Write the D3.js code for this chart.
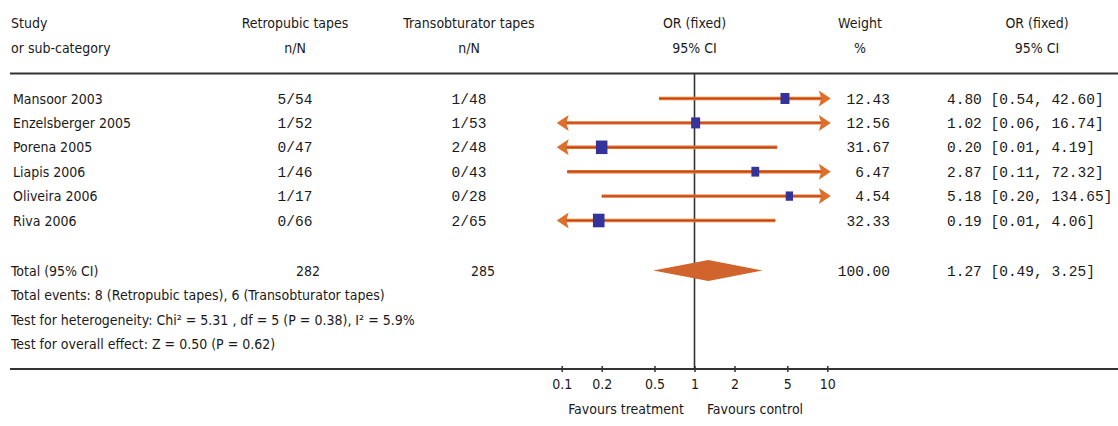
<!DOCTYPE html>
<html>
<head>
<meta charset="utf-8">
<script src="https://cdn.jsdelivr.net/npm/d3@7"></script>
<style>
  html, body { margin: 0; padding: 0; background: #fff; }
  svg { display: block; }
  .sans { font-family: "DejaVu Sans Condensed", "Liberation Sans Narrow", "Arial Narrow", sans-serif; fill: #1a1a1a; }
  .mono { font-family: "Liberation Mono", "DejaVu Sans Mono", monospace; fill: #1a1a1a; }
</style>
</head>
<body>
<svg id="chart" width="1118" height="426"></svg>
<script>
// ---------- data ----------
const studies = ["Mansoor 2003", "Enzelsberger 2005", "Porena 2005", "Liapis 2006", "Oliveira 2006", "Riva 2006"];
const retroEvents = [5, 1, 0, 1, 1, 0];
const retroTotal  = [54, 52, 47, 46, 17, 66];
const transEvents = [1, 1, 2, 0, 0, 2];
const transTotal  = [48, 53, 48, 43, 28, 65];
const weights     = [12.43, 12.56, 31.67, 6.47, 4.54, 32.33];
const orValues    = [4.80, 1.02, 0.20, 2.87, 5.18, 0.19];
const ciLower     = [0.54, 0.06, 0.01, 0.11, 0.20, 0.01];
const ciUpper     = [42.60, 16.74, 4.19, 72.32, 134.65, 4.06];
const totalLabel  = "Total (95% CI)";
const totalRetro  = 282;
const totalTrans  = 285;
const totalWeight = 100.00;
const totalOR     = 1.27;
const totalLower  = 0.49;
const totalUpper  = 3.25;
const footnotes = [
  "Total events: 8 (Retropubic tapes), 6 (Transobturator tapes)",
  "Test for heterogeneity: Chi\u00B2 = 5.31 , df = 5 (P = 0.38), I\u00B2 = 5.9%",
  "Test for overall effect: Z = 0.50 (P = 0.62)"
];
const xTicks = [0.1, 0.2, 0.5, 1, 2, 5, 10];
const xTickLabels = ["0.1", "0.2", "0.5", "1", "2", "5", "10"];
const favourLeft = "Favours treatment";
const favourRight = "Favours control";

// ---------- layout ----------
const svg = d3.select("#chart");
const x = d3.scaleLog().domain([0.1, 10]).range([561.7, 827.3]);
const rowY = d3.scaleLinear().domain([0, 1]).range([98.5, 122.9]);
const totalY = 270.5;
const axisY = 369;
const headerLineY = 73.5;
const sizeScale = d3.scaleSqrt().domain([4.54, 32.33]).range([7.3, 11.6]);

const colStudy = 13, colRetro = 295, colTrans = 469, colWeightR = 890, colCI = 947;
const colWeightHdr = 860, colORHdr = 1037;

const lineOuter = "#e0732c", lineInner = "#c8401c", headFill = "#dc6f2a";
const markerFill = "#333399", diamondFill = "#d0642c";

// header text
const hdr = svg.append("g").attr("class", "sans").style("font-size", "14px");
hdr.append("text").attr("x", colStudy - 2).attr("y", 28).text("Study");
hdr.append("text").attr("x", colStudy - 2).attr("y", 53).text("or sub-category");
[[colRetro, "Retropubic tapes", "n/N"], [colTrans, "Transobturator tapes", "n/N"],
 [x(1), "OR (fixed)", "95% CI"], [colWeightHdr, "Weight", "%"], [colORHdr, "OR (fixed)", "95% CI"]]
  .forEach(([cx, a, b]) => {
    hdr.append("text").attr("x", cx).attr("y", 28).attr("text-anchor", "middle").text(a);
    hdr.append("text").attr("x", cx).attr("y", 53).attr("text-anchor", "middle").text(b);
  });

// horizontal rules
svg.append("line").attr("x1", 10).attr("x2", 1118).attr("y1", headerLineY).attr("y2", headerLineY)
  .attr("stroke", "#333").attr("stroke-width", 2.2);

// vertical line of no effect
svg.append("line").attr("x1", x(1)).attr("x2", x(1)).attr("y1", headerLineY).attr("y2", axisY)
  .attr("stroke", "#333").attr("stroke-width", 1.6);

// study rows
const rows = svg.append("g");
studies.forEach((s, i) => {
  const y = rowY(i);
  rows.append("text").attr("class", "sans").style("font-size", "14px")
    .attr("x", colStudy).attr("y", y + 5).text(s);
  rows.append("text").attr("class", "mono").style("font-size", "14.5px")
    .attr("x", colRetro).attr("y", y + 5).attr("text-anchor", "middle")
    .text(retroEvents[i] + "/" + retroTotal[i]);
  rows.append("text").attr("class", "mono").style("font-size", "14.5px")
    .attr("x", colTrans).attr("y", y + 5).attr("text-anchor", "middle")
    .text(transEvents[i] + "/" + transTotal[i]);
  rows.append("text").attr("class", "mono").style("font-size", "14.5px")
    .attr("x", colWeightR).attr("y", y + 5).attr("text-anchor", "end")
    .text(weights[i].toFixed(2));
  rows.append("text").attr("class", "mono").style("font-size", "14.5px")
    .attr("x", colCI).attr("y", y + 5).attr("xml:space", "preserve")
    .text(orValues[i].toFixed(2) + " [" + ciLower[i].toFixed(2) + ", " + ciUpper[i].toFixed(2) + "]");

  // CI line clipped to axis domain
  const [dmin, dmax] = x.domain();
  const lo = Math.max(ciLower[i], dmin), hi = Math.min(ciUpper[i], dmax);
  const x1 = x(lo), x2 = x(hi);
  const leftArrow = ciLower[i] < dmin, rightArrow = ciUpper[i] > dmax;
  const lx1 = leftArrow ? x1 + 2 : x1, lx2 = rightArrow ? x2 - 2 : x2;
  rows.append("line").attr("x1", lx1).attr("x2", lx2).attr("y1", y).attr("y2", y)
    .attr("stroke", lineOuter).attr("stroke-width", 3.4);
  rows.append("line").attr("x1", lx1).attr("x2", lx2).attr("y1", y).attr("y2", y)
    .attr("stroke", lineInner).attr("stroke-width", 1.2);
  if (rightArrow) {
    rows.append("path").attr("fill", headFill)
      .attr("d", `M${x2 + 3.5},${y} L${x2 - 8.5},${y - 8} L${x2 - 6},${y} L${x2 - 8.5},${y + 8} Z`);
  }
  if (leftArrow) {
    rows.append("path").attr("fill", headFill)
      .attr("d", `M${x1 - 5},${y} L${x1 + 7},${y - 8} L${x1 + 4.5},${y} L${x1 + 7},${y + 8} Z`);
  }
  // point estimate marker
  const w = sizeScale(weights[i]), h = w + 2;
  rows.append("rect").attr("x", x(orValues[i]) - w / 2).attr("y", y - h / 2)
    .attr("width", w).attr("height", h).attr("fill", markerFill);
});

// total row
const tot = svg.append("g");
tot.append("text").attr("class", "sans").style("font-size", "14px")
  .attr("x", colStudy - 2).attr("y", totalY + 5).text(totalLabel);
tot.append("text").attr("class", "sans").style("font-size", "14px")
  .attr("x", 308).attr("y", totalY + 5).attr("text-anchor", "middle").text(totalRetro);
tot.append("text").attr("class", "sans").style("font-size", "14px")
  .attr("x", 483).attr("y", totalY + 5).attr("text-anchor", "middle").text(totalTrans);
tot.append("text").attr("class", "mono").style("font-size", "14.5px")
  .attr("x", colWeightR).attr("y", totalY + 5).attr("text-anchor", "end").text(totalWeight.toFixed(2));
tot.append("text").attr("class", "mono").style("font-size", "14.5px")
  .attr("x", colCI).attr("y", totalY + 5)
  .text(totalOR.toFixed(2) + " [" + totalLower.toFixed(2) + ", " + totalUpper.toFixed(2) + "]");
tot.append("path").attr("fill", diamondFill)
  .attr("d", `M${x(totalLower)},${totalY} L${x(totalOR)},${totalY - 10.5} L${x(totalUpper)},${totalY} L${x(totalOR)},${totalY + 10.5} Z`);

// footnotes
footnotes.forEach((f, i) => {
  svg.append("text").attr("class", "sans").style("font-size", "14px")
    .attr("x", colStudy - 2).attr("y", 300 + i * 24.5).text(f);
});

// bottom rule + axis
svg.append("line").attr("x1", 10).attr("x2", 1118).attr("y1", axisY).attr("y2", axisY)
  .attr("stroke", "#333").attr("stroke-width", 2.2);
const axis = d3.axisBottom(x).tickValues(xTicks)
  .tickFormat((d, i) => xTickLabels[i]).tickSizeOuter(0).tickSizeInner(3).tickPadding(8);
const ax = svg.append("g").attr("transform", `translate(0,${axisY})`).call(axis);
ax.select(".domain").remove();
ax.selectAll(".tick line").attr("y1", -3).attr("y2", 3).attr("stroke", "#333").attr("stroke-width", 1.5);
ax.selectAll(".tick text").attr("class", "sans").attr("fill", "#1a1a1a")
  .style("font-size", "14px").attr("y", 20).attr("dy", 0);

svg.append("text").attr("class", "sans").style("font-size", "14px")
  .attr("x", 626).attr("y", 414).attr("text-anchor", "middle").text(favourLeft);
svg.append("text").attr("class", "sans").style("font-size", "14px")
  .attr("x", 755).attr("y", 414).attr("text-anchor", "middle").text(favourRight);
</script>
</body>
</html>
